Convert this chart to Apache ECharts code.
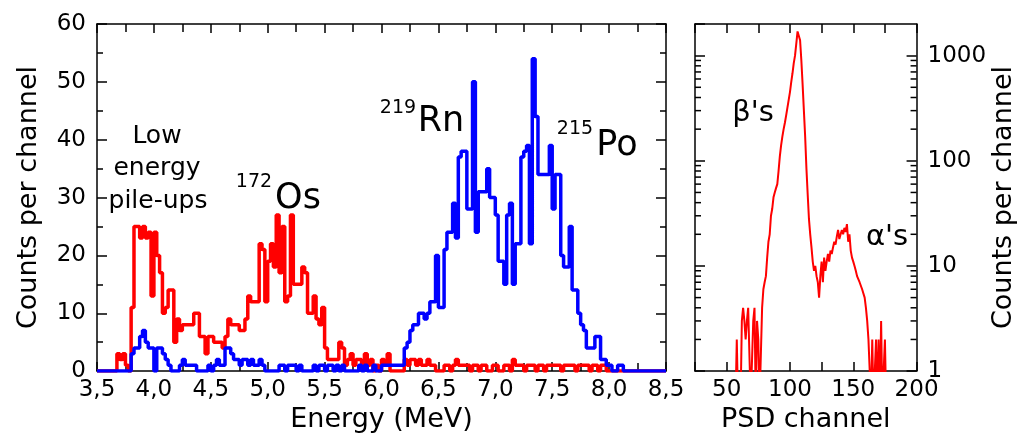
<!DOCTYPE html>
<html><head><meta charset="utf-8">
<script src="https://cdn.jsdelivr.net/npm/echarts@6/dist/echarts.min.js"></script>
<style>html,body{margin:0;padding:0;background:#fff}#c{width:1018px;height:438px}</style>
</head><body><div id="c"></div>
<script>
// ---- data ----
const energyBinStart = 3.6;     // MeV, left edge of first bin
const energyBinWidth = 0.025;   // MeV
const redCounts = [
  0,0,0,3,2,3,1,0,
  11,25,25,23,25,23,24,13,
  24,20,17,10,11,14,14,5,
  9,7,8,8,8,8,10,10,
  6,6,3,6,6,5,5,5,
  4,6,9,8,8,8,7,7,
  9,13,12,12,12,22,21,12,
  19,22,18,27,17,25,12,13,
  27,15,15,15,18,17,10,10,
  13,9,8,11,4,2,2,2,
  2,5,4,1,2,3,1,2,
  2,1,3,1,2,0,1,0,
  2,1,3,0,0,0,0,0,
  2,1,2,2,1,2,1,1,
  2,1,1,0,0,0,1,1,
  0,1,2,1,1,1,1,0,
  1,1,0,1,1,0,0,1,
  1,0,0,1,1,0,2,1,
  1,1,0,1,1,1,0,1,
  1,0,1,1,1,1,1,0,
  1,1,1,1,0,1,1,1,
  1,0,1,1,0,1,1,0,
  0
];
const blueCounts = [
  0,0,0,0,0,0,0,0,
  3,4,4,6,7,5,4,4,
  0,4,4,3,2,1,0,0,
  0,1,2,1,1,1,1,0,
  0,0,0,1,0,1,2,1,
  1,4,4,3,2,2,1,2,
  2,1,2,1,1,2,1,0,
  0,0,0,0,1,1,0,1,
  1,1,0,1,0,0,0,0,
  1,0,1,1,0,1,1,0,
  1,0,1,0,0,0,0,0,
  1,0,1,0,0,1,0,0,
  1,1,1,1,1,1,1,1,
  4,5,7,8,8,10,10,9,
  10,12,12,20,11,11,21,24,
  24,29,23,37,38,38,28,28,
  50,24,31,31,31,35,30,30,
  27,19,19,15,27,29,15,22,
  22,37,38,39,22,54,44,34,
  34,34,34,39,28,34,34,20,
  18,18,25,14,14,10,8,7,
  4,4,4,6,6,2,2,1,
  1,0,0,1,1,0
];
const psdChannelStart = 55;
const psdCounts = [
  0,0,0,2,0,0,0,3,
  4,3,2,3,4,4,0,0,
  3,4,0,3,2,0,0,4,
  6,7,8,12,17,20,30,35,
  45,50,55,60,80,110,140,170,
  200,230,270,320,380,450,560,680,
  850,1000,1300,1700,1750,1400,900,530,
  300,170,85,48,28,20,15,11,
  9,10,8,7,5,8,11,7,
  12,9,11,13,11,14,13,15,
  17,16,19,22,18,20,22,20,
  23,21,25,17,20,14,12,11,
  10,9,8,8,7,7,6,6,
  5,4,3,2,1,0,2,0,
  1,2,0,2,0,3,0,0,2,0
];
const logMinorTicks = [2,3,4,5,6,7,8,9,20,30,40,50,60,70,80,90,200,300,400,500,600,700,800,900];
const energyMin = 3.5, energyMax = 8.5;
const psdMin = 25, psdMax = 200;

// ---- build ----
function histPoints(counts){
  const pts = [[energyMin, 0]];
  counts.forEach((v, i) => pts.push([+(energyBinStart + i * energyBinWidth).toFixed(4), v]));
  pts.push([+(energyBinStart + counts.length * energyBinWidth).toFixed(4), 0]);
  pts.push([energyMax, 0]);
  return pts;
}
const psdPoints = psdCounts.map((v, i) => [psdChannelStart + i, v > 0 ? v : 0.5]); // zero counts fall below the log axis

const FONT = 'DejaVu Sans';
const black = '#000';
const aLine = {show: true, onZero: false, lineStyle: {color: black, width: 1.5}};
const tickX = {show: true, inside: true, length: 9, lineStyle: {color: black, width: 1.5}};
const tickY = {show: true, inside: true, length: 10, lineStyle: {color: black, width: 1.5}};
const minorX = {show: true, splitNumber: 2, length: 8, lineStyle: {color: black, width: 1.5}};
const minorY = {show: true, splitNumber: 2, length: 6, lineStyle: {color: black, width: 1.5}};
const lbl = {color: black, fontSize: 23, fontFamily: FONT};
const nameStyle = {color: black, fontSize: 27, fontFamily: FONT};
const noSplit = {show: false};
const txt = (t, x, y, size) => ({type: 'text', x: x, y: y, silent: true,
  style: {text: t, font: size + 'px "DejaVu Sans"', fill: black, align: 'center', verticalAlign: 'middle'}});

const chart = echarts.init(document.getElementById('c'), null, {renderer: 'canvas'});
chart.setOption({
  animation: false,
  backgroundColor: '#fff',
  textStyle: {fontFamily: FONT},
  grid: [
    {left: 97, top: 24, width: 569, height: 352},
    {left: 695, top: 24, width: 229, height: 353}
  ],
  xAxis: [
    {gridIndex: 0, type: 'value', position: 'bottom', min: energyMin, max: energyMax, interval: 0.5,
     axisLine: aLine, axisTick: tickX, minorTick: minorX, splitLine: noSplit,
     axisLabel: Object.assign({margin: 7, formatter: v => v.toFixed(1).replace('.', ',')}, lbl),
     name: 'Energy (MeV)', nameLocation: 'middle', nameGap: 32, nameTextStyle: nameStyle},
    {gridIndex: 0, type: 'value', position: 'top', min: energyMin, max: energyMax, interval: 0.5,
     axisLine: aLine, axisTick: tickX, minorTick: minorX, splitLine: noSplit, axisLabel: {show: false}},
    {gridIndex: 1, type: 'value', position: 'bottom', min: psdMin, max: psdMax, interval: 25,
     axisLine: aLine, axisTick: tickX, splitLine: noSplit,
     axisLabel: Object.assign({margin: 7, formatter: v => (v % 50 === 0 ? String(v) : '')}, lbl),
     name: 'PSD channel', nameLocation: 'middle', nameGap: 32, nameTextStyle: nameStyle},
    {gridIndex: 1, type: 'value', position: 'top', min: psdMin, max: psdMax, interval: 25,
     axisLine: aLine, axisTick: tickX, splitLine: noSplit, axisLabel: {show: false}}
  ],
  yAxis: [
    {gridIndex: 0, type: 'value', position: 'left', min: 0, max: 60, interval: 10,
     axisLine: aLine, axisTick: tickY, minorTick: minorY, splitLine: noSplit,
     axisLabel: Object.assign({margin: 11}, lbl),
     name: 'Counts per channel', nameLocation: 'middle', nameGap: 55, nameRotate: 90, nameTextStyle: nameStyle},
    {gridIndex: 0, type: 'value', position: 'right', min: 0, max: 60, interval: 10,
     axisLine: aLine, axisTick: tickY, minorTick: minorY, splitLine: noSplit, axisLabel: {show: false}},
    {gridIndex: 1, type: 'log', logBase: 10, position: 'right', min: 1, max: 2000,
     axisLine: aLine, axisTick: tickY, splitLine: noSplit,
     axisLabel: Object.assign({margin: 11, showMaxLabel: false, formatter: v => String(v)}, lbl),
     name: 'Counts per channel', nameLocation: 'middle', nameGap: 65, nameRotate: 90, nameTextStyle: nameStyle},
    {gridIndex: 1, type: 'log', logBase: 10, position: 'left', min: 1, max: 2000,
     axisLine: aLine, axisTick: tickY, splitLine: noSplit, axisLabel: {show: false}}
  ],
  series: [
    {type: 'line', name: 'red', xAxisIndex: 0, yAxisIndex: 0, step: 'end', showSymbol: false, symbol: 'none',
     data: histPoints(redCounts), lineStyle: {color: '#ff0000', width: 3.5}, itemStyle: {color: '#ff0000'}, z: 2},
    {type: 'line', name: 'blue', xAxisIndex: 0, yAxisIndex: 0, step: 'end', showSymbol: false, symbol: 'none',
     data: histPoints(blueCounts), lineStyle: {color: '#0000ff', width: 3.5}, itemStyle: {color: '#0000ff'}, z: 3},
    {type: 'line', name: 'psd', xAxisIndex: 2, yAxisIndex: 2, showSymbol: false, symbol: 'none',
     data: psdPoints, lineStyle: {color: '#ff0000', width: 2}, itemStyle: {color: '#ff0000'}, z: 2},
    {type: 'custom', xAxisIndex: 2, yAxisIndex: 2, silent: true, z: 5,
     data: logMinorTicks.map(v => [psdMin, v]),
     renderItem: function (params, api) {
       const v = api.value(1);
       const pL = api.coord([psdMin, v]);
       const pR = api.coord([psdMax, v]);
       const st = {stroke: black, lineWidth: 1.5};
       return {type: 'group', children: [
         {type: 'line', shape: {x1: pL[0], y1: pL[1], x2: pL[0] + 6, y2: pL[1]}, style: st},
         {type: 'line', shape: {x1: pR[0], y1: pR[1], x2: pR[0] - 6, y2: pR[1]}, style: st}
       ]};
     }}
  ],
  graphic: [
    txt('Low', 157, 136, 25),
    txt('energy', 157, 168, 25),
    txt('pile-ups', 158, 201, 25),
    txt('172', 254, 182, 19),
    txt('Os', 298, 199, 35),
    txt('219', 398, 108, 19),
    txt('Rn', 441, 122, 35),
    txt('215', 575, 129, 19),
    txt('Po', 617, 146, 35),
    txt("\u03B2's", 753, 113, 29),
    txt("\u03B1's", 887, 237, 29)
  ]
});
</script></body></html>
